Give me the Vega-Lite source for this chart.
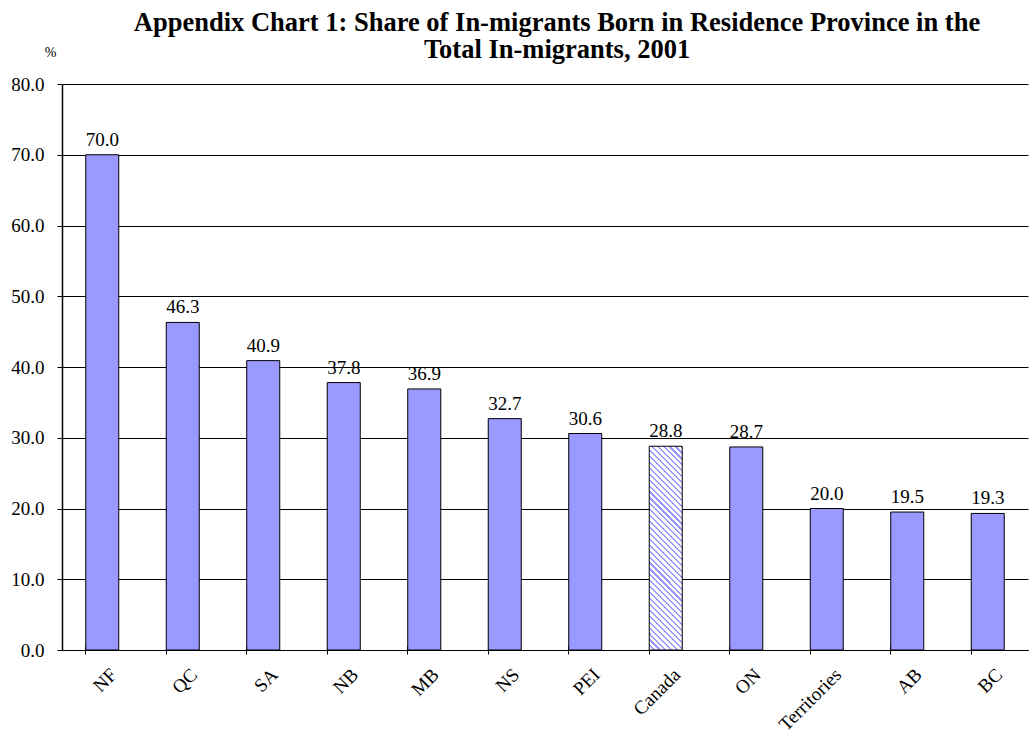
{
  "$schema": "https://vega.github.io/schema/vega-lite/v6.json",
  "autosize": {"type": "none"},
  "width": 966,
  "height": 566,
  "padding": {"left": 62, "top": 84, "right": 2, "bottom": 86},
  "background": "white",
  "title": {
    "text": ["Appendix Chart 1: Share of In-migrants Born in Residence Province in the", "Total In-migrants, 2001"],
    "font": "Liberation Serif",
    "fontSize": 26.5,
    "fontWeight": "bold",
    "color": "black",
    "anchor": "middle",
    "frame": "group",
    "dx": 12,
    "dy": 22,
    "lineHeight": 27,
    "offset": 4
  },
  "data": {
    "values": [
      {"region": "NF", "value": 70.0},
      {"region": "QC", "value": 46.3},
      {"region": "SA", "value": 40.9},
      {"region": "NB", "value": 37.8},
      {"region": "MB", "value": 36.9},
      {"region": "NS", "value": 32.7},
      {"region": "PEI", "value": 30.6},
      {"region": "Canada", "value": 28.8},
      {"region": "ON", "value": 28.7},
      {"region": "Territories", "value": 20.0},
      {"region": "AB", "value": 19.5},
      {"region": "BC", "value": 19.3}
    ]
  },
  "config": {
    "view": {"stroke": null},
    "axis": {"labelFont": "Liberation Serif", "titleFont": "Liberation Serif", "labelColor": "black", "titleColor": "black"}
  },
  "resolve": {"axis": {"x": "independent", "y": "independent"}},
  "layer": [
    {
      "mark": {"type": "bar", "stroke": "black", "strokeWidth": 1},
      "encoding": {
        "x": {
          "field": "region", "type": "nominal", "sort": null,
          "scale": {"paddingInner": 0.59, "paddingOuter": 0.295},
          "axis": {"title": null, "labelAngle": -45, "labelFontSize": 19, "labelPadding": 15, "labelOffset": 5, "ticks": false, "domainColor": "black", "domainWidth": 1}
        },
        "y": {
          "field": "value", "type": "quantitative",
          "scale": {"domain": [0, 80], "nice": false},
          "axis": {
            "values": [0, 10, 20, 30, 40, 50, 60, 70, 80],
            "format": ".1f",
            "grid": true, "gridColor": "black", "gridWidth": 1, "gridOpacity": 1,
            "domainColor": "black", "domainWidth": 1.5,
            "tickColor": "black", "tickSize": 5,
            "labelFontSize": 19, "labelPadding": 13,
            "title": "%", "titleAngle": 0, "titleFontSize": 14, "titleFontWeight": "normal",
            "titleX": -12, "titleY": -32, "titleAlign": "center", "titleBaseline": "middle"
          }
        },
        "fill": {
          "condition": {
            "test": "datum.region === 'Canada'",
            "value": {
              "gradient": "linear", "x1": 0, "y1": 1, "x2": 0.1835, "y2": -0.132,
              "stops": [
                {"offset": 0, "color": "#fff"}, {"offset": 0.016, "color": "#fff"}, {"offset": 0.016, "color": "#99f"}, {"offset": 0.025, "color": "#99f"},
                {"offset": 0.025, "color": "#fff"}, {"offset": 0.041, "color": "#fff"}, {"offset": 0.041, "color": "#99f"}, {"offset": 0.05, "color": "#99f"},
                {"offset": 0.05, "color": "#fff"}, {"offset": 0.066, "color": "#fff"}, {"offset": 0.066, "color": "#99f"}, {"offset": 0.075, "color": "#99f"},
                {"offset": 0.075, "color": "#fff"}, {"offset": 0.091, "color": "#fff"}, {"offset": 0.091, "color": "#99f"}, {"offset": 0.1, "color": "#99f"},
                {"offset": 0.1, "color": "#fff"}, {"offset": 0.116, "color": "#fff"}, {"offset": 0.116, "color": "#99f"}, {"offset": 0.125, "color": "#99f"},
                {"offset": 0.125, "color": "#fff"}, {"offset": 0.141, "color": "#fff"}, {"offset": 0.141, "color": "#99f"}, {"offset": 0.15, "color": "#99f"},
                {"offset": 0.15, "color": "#fff"}, {"offset": 0.166, "color": "#fff"}, {"offset": 0.166, "color": "#99f"}, {"offset": 0.175, "color": "#99f"},
                {"offset": 0.175, "color": "#fff"}, {"offset": 0.191, "color": "#fff"}, {"offset": 0.191, "color": "#99f"}, {"offset": 0.2, "color": "#99f"},
                {"offset": 0.2, "color": "#fff"}, {"offset": 0.216, "color": "#fff"}, {"offset": 0.216, "color": "#99f"}, {"offset": 0.225, "color": "#99f"},
                {"offset": 0.225, "color": "#fff"}, {"offset": 0.241, "color": "#fff"}, {"offset": 0.241, "color": "#99f"}, {"offset": 0.25, "color": "#99f"},
                {"offset": 0.25, "color": "#fff"}, {"offset": 0.266, "color": "#fff"}, {"offset": 0.266, "color": "#99f"}, {"offset": 0.275, "color": "#99f"},
                {"offset": 0.275, "color": "#fff"}, {"offset": 0.291, "color": "#fff"}, {"offset": 0.291, "color": "#99f"}, {"offset": 0.3, "color": "#99f"},
                {"offset": 0.3, "color": "#fff"}, {"offset": 0.316, "color": "#fff"}, {"offset": 0.316, "color": "#99f"}, {"offset": 0.325, "color": "#99f"},
                {"offset": 0.325, "color": "#fff"}, {"offset": 0.341, "color": "#fff"}, {"offset": 0.341, "color": "#99f"}, {"offset": 0.35, "color": "#99f"},
                {"offset": 0.35, "color": "#fff"}, {"offset": 0.366, "color": "#fff"}, {"offset": 0.366, "color": "#99f"}, {"offset": 0.375, "color": "#99f"},
                {"offset": 0.375, "color": "#fff"}, {"offset": 0.391, "color": "#fff"}, {"offset": 0.391, "color": "#99f"}, {"offset": 0.4, "color": "#99f"},
                {"offset": 0.4, "color": "#fff"}, {"offset": 0.416, "color": "#fff"}, {"offset": 0.416, "color": "#99f"}, {"offset": 0.425, "color": "#99f"},
                {"offset": 0.425, "color": "#fff"}, {"offset": 0.441, "color": "#fff"}, {"offset": 0.441, "color": "#99f"}, {"offset": 0.45, "color": "#99f"},
                {"offset": 0.45, "color": "#fff"}, {"offset": 0.466, "color": "#fff"}, {"offset": 0.466, "color": "#99f"}, {"offset": 0.475, "color": "#99f"},
                {"offset": 0.475, "color": "#fff"}, {"offset": 0.491, "color": "#fff"}, {"offset": 0.491, "color": "#99f"}, {"offset": 0.5, "color": "#99f"},
                {"offset": 0.5, "color": "#fff"}, {"offset": 0.516, "color": "#fff"}, {"offset": 0.516, "color": "#99f"}, {"offset": 0.525, "color": "#99f"},
                {"offset": 0.525, "color": "#fff"}, {"offset": 0.541, "color": "#fff"}, {"offset": 0.541, "color": "#99f"}, {"offset": 0.55, "color": "#99f"},
                {"offset": 0.55, "color": "#fff"}, {"offset": 0.566, "color": "#fff"}, {"offset": 0.566, "color": "#99f"}, {"offset": 0.575, "color": "#99f"},
                {"offset": 0.575, "color": "#fff"}, {"offset": 0.591, "color": "#fff"}, {"offset": 0.591, "color": "#99f"}, {"offset": 0.6, "color": "#99f"},
                {"offset": 0.6, "color": "#fff"}, {"offset": 0.616, "color": "#fff"}, {"offset": 0.616, "color": "#99f"}, {"offset": 0.625, "color": "#99f"},
                {"offset": 0.625, "color": "#fff"}, {"offset": 0.641, "color": "#fff"}, {"offset": 0.641, "color": "#99f"}, {"offset": 0.65, "color": "#99f"},
                {"offset": 0.65, "color": "#fff"}, {"offset": 0.666, "color": "#fff"}, {"offset": 0.666, "color": "#99f"}, {"offset": 0.675, "color": "#99f"},
                {"offset": 0.675, "color": "#fff"}, {"offset": 0.691, "color": "#fff"}, {"offset": 0.691, "color": "#99f"}, {"offset": 0.7, "color": "#99f"},
                {"offset": 0.7, "color": "#fff"}, {"offset": 0.716, "color": "#fff"}, {"offset": 0.716, "color": "#99f"}, {"offset": 0.725, "color": "#99f"},
                {"offset": 0.725, "color": "#fff"}, {"offset": 0.741, "color": "#fff"}, {"offset": 0.741, "color": "#99f"}, {"offset": 0.75, "color": "#99f"},
                {"offset": 0.75, "color": "#fff"}, {"offset": 0.766, "color": "#fff"}, {"offset": 0.766, "color": "#99f"}, {"offset": 0.775, "color": "#99f"},
                {"offset": 0.775, "color": "#fff"}, {"offset": 0.791, "color": "#fff"}, {"offset": 0.791, "color": "#99f"}, {"offset": 0.8, "color": "#99f"},
                {"offset": 0.8, "color": "#fff"}, {"offset": 0.816, "color": "#fff"}, {"offset": 0.816, "color": "#99f"}, {"offset": 0.825, "color": "#99f"},
                {"offset": 0.825, "color": "#fff"}, {"offset": 0.841, "color": "#fff"}, {"offset": 0.841, "color": "#99f"}, {"offset": 0.85, "color": "#99f"},
                {"offset": 0.85, "color": "#fff"}, {"offset": 0.866, "color": "#fff"}, {"offset": 0.866, "color": "#99f"}, {"offset": 0.875, "color": "#99f"},
                {"offset": 0.875, "color": "#fff"}, {"offset": 0.891, "color": "#fff"}, {"offset": 0.891, "color": "#99f"}, {"offset": 0.9, "color": "#99f"},
                {"offset": 0.9, "color": "#fff"}, {"offset": 0.916, "color": "#fff"}, {"offset": 0.916, "color": "#99f"}, {"offset": 0.925, "color": "#99f"},
                {"offset": 0.925, "color": "#fff"}, {"offset": 0.941, "color": "#fff"}, {"offset": 0.941, "color": "#99f"}, {"offset": 0.95, "color": "#99f"},
                {"offset": 0.95, "color": "#fff"}, {"offset": 0.966, "color": "#fff"}, {"offset": 0.966, "color": "#99f"}, {"offset": 0.975, "color": "#99f"},
                {"offset": 0.975, "color": "#fff"}, {"offset": 0.991, "color": "#fff"}, {"offset": 0.991, "color": "#99f"}, {"offset": 1, "color": "#99f"}
              ]
            }
          },
          "value": "#9999ff"
        }
      }
    },
    {
      "mark": {"type": "text", "font": "Liberation Serif", "fontSize": 19, "color": "black", "baseline": "alphabetic", "dy": -9},
      "encoding": {
        "x": {
          "field": "region", "type": "nominal", "sort": null,
          "axis": {"orient": "bottom", "title": null, "labels": false, "domain": false, "ticks": true, "bandPosition": 0, "tickSize": 8, "offset": -4, "tickColor": "black", "tickWidth": 1}
        },
        "y": {"field": "value", "type": "quantitative", "axis": null},
        "text": {"field": "value", "type": "quantitative", "format": ".1f"}
      }
    }
  ]
}
